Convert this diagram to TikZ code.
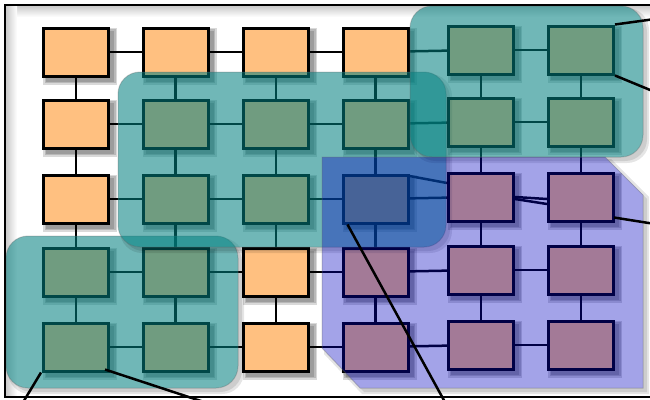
\documentclass[tikz,border=0pt]{standalone}
\usetikzlibrary{calc}
\pgfdeclarelayer{shadowl}
\pgfdeclarelayer{edgel}
\pgfdeclarelayer{overl}
\pgfdeclarelayer{topl}
\pgfsetlayers{shadowl,edgel,main,overl,topl}
\definecolor{boxfill}{RGB}{255,192,128}
\definecolor{tealov}{RGB}{0,128,128}
\definecolor{blueov}{RGB}{0,0,192}
\tikzset{
  box/.style={draw=black, line width=3pt, fill=boxfill, minimum width=65pt, minimum height=48pt, inner sep=0pt},
  conn/.style={draw=black, line width=2.5pt},
  outline/.style={draw=black, line width=2.5pt},
  boxshadow/.style={fill=black, opacity=0.15},
  regshadow/.style={fill=black, opacity=0.1},
  tealregion/.style={fill=tealov, fill opacity=0.56, draw=black!60, draw opacity=0.3, line width=1pt, rounded corners=22pt},
  blueregion/.style={fill=blueov, fill opacity=0.36, draw=black!60, draw opacity=0.3, line width=1pt},
}
\begin{document}
\begin{tikzpicture}[x=1pt,y=-1pt]
\useasboundingbox (0,0) rectangle (650,399);
\clip (0,0) rectangle (650,399);
% background and inner frame shading
\begin{pgfonlayer}{shadowl}
  \fill[white] (0,0) rectangle (650,399);
  \shade[top color=black!22, bottom color=white] (5,5) rectangle (650,17);
  \shade[left color=black!22, right color=white] (5,5) rectangle (17,397);
\end{pgfonlayer}
% boxes
\foreach \c/\x/\d in {1/76/0,2/175.5/0,3/276/0,4/375.5/0,5/481/2,6/581/2}{
  \foreach \r/\y in {1/52,2/124,3/199,4/272,5/347}{
    \node[box] (b\r\c) at (\x,\y-\d) {};
  }
}
% box shadows
\begin{pgfonlayer}{shadowl}
  \foreach \r in {1,...,5}{\foreach \c in {1,...,6}{\foreach \e in {0,1.5,3}{
    \fill[boxshadow] ($(b\r\c.north west)+(4-\e,4-\e)$) rectangle ($(b\r\c.south east)+(4+\e,4+\e)$);
  }}}
\end{pgfonlayer}
% connectors
\begin{pgfonlayer}{edgel}
  \foreach \r in {1,2,4,5}{\foreach \c/\n in {1/2,2/3,3/4,4/5,5/6}{
    \draw[conn] (b\r\c.center) -- (b\r\n.center);
  }}
  \foreach \c/\n in {1/2,2/3,3/4,4/5}{
    \draw[conn] (b3\c.center) -- (b3\n.center);
  }
  \foreach \c in {1,...,6}{\foreach \r/\n in {1/2,2/3,3/4,4/5}{
    \draw[conn] (b\r\c.center) -- (b\n\c.center);
  }}
  \draw[conn] ($(b34.north east)+(0,2.5)$) -- ($(b35.west)+(0,-14)$);
  \draw[conn] ($(b35.east)+(0,0)$) -- ($(b36.west)+(0,2)$);
  \draw[conn] ($(b35.east)+(0,2)$) -- ($(b36.west)+(0,7)$);
\end{pgfonlayer}
% overlay regions
\begin{pgfonlayer}{overl}
  \begin{scope}[even odd rule, rounded corners=22pt]
    \clip (-50,-50) rectangle (700,450) (6,236) rectangle (238,388);
    \foreach \e in {0,2}{
      \fill[regshadow] (6+4-\e,236+4-\e) rectangle (238+4+\e,388+4+\e);
    }
  \end{scope}
  \path[tealregion] (6,236) rectangle (238,388);
  \begin{scope}[even odd rule, rounded corners=22pt]
    \clip (-50,-50) rectangle (700,450) (118,72) rectangle (446,247);
    \foreach \e in {0,2}{
      \fill[regshadow] (118+4-\e,72+4-\e) rectangle (446+4+\e,247+4+\e);
    }
  \end{scope}
  \path[tealregion] (118,72) rectangle (446,247);
  \begin{scope}[even odd rule, rounded corners=22pt]
    \clip (-50,-50) rectangle (700,450) (410,6) rectangle (643,157);
    \foreach \e in {0,2}{
      \fill[regshadow] (410+4-\e,6+4-\e) rectangle (643+4+\e,157+4+\e);
    }
  \end{scope}
  \path[tealregion] (410,6) rectangle (643,157);
  \begin{scope}[even odd rule]
    \clip (-50,-50) rectangle (700,450) (322,157) -- (605,157) -- (643,195) -- (643,388) -- (360,388) -- (322,348) -- cycle;
    \foreach \e in {0,2}{
      \fill[regshadow] (322+4-\e,157+4-\e) -- (605+4+\e,157+4-\e) -- (643+4+\e,195+4-\e) -- (643+4+\e,388+4+\e) -- (360+4-\e,388+4+\e) -- (322+4-\e,348+4+\e) -- cycle;
    }
  \end{scope}
  \path[blueregion] (322,157) -- (605,157) -- (643,195) -- (643,388) -- (360,388) -- (322,348) -- cycle;
\end{pgfonlayer}
% frame and outgoing lines
\begin{pgfonlayer}{topl}
  \draw[line width=2pt] (5,5) rectangle (680,397);
  \coordinate (o1) at (655,19);
  \coordinate (o2) at (655,92);
  \coordinate (o3) at (655,224);
  \coordinate (o4) at (446,404);
  \coordinate (o5) at (22,404);
  \coordinate (o6) at (210,404);
  \draw[outline] (b16.north east) -- (o1);
  \draw[outline] (b16.south east) -- (o2);
  \draw[outline] ($(b36.south east)+(-1,-5)$) -- (o3);
  \draw[outline] ($(b34.south west)+(6,0)$) -- (o4);
  \draw[outline] ($(b51.south west)+(-1,0)$) -- (o5);
  \draw[outline] ($(b51.south east)+(-5,-3)$) -- (o6);
\end{pgfonlayer}
\end{tikzpicture}
\end{document}
